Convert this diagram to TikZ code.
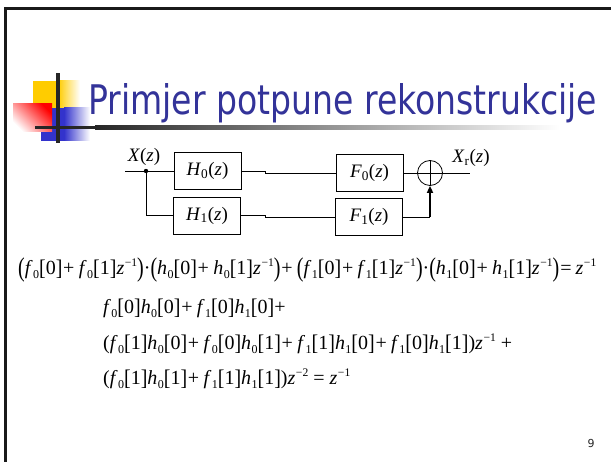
\documentclass[tikz,border=0pt]{standalone}
\usepackage{graphicx}
\usepackage{fontspec}
\setmainfont{Liberation Serif}
\newfontfamily\titlefont{DejaVu Sans}
\usetikzlibrary{arrows.meta}

\definecolor{titleblue}{RGB}{51,51,153}
\definecolor{logoyellow}{RGB}{255,204,0}
\definecolor{logoblue}{RGB}{51,51,204}
\definecolor{logored}{RGB}{255,0,0}
\definecolor{bargray}{RGB}{38,38,38}
\definecolor{framegray}{RGB}{25,25,25}

% formula helpers
\newcommand\Sb[1]{\raisebox{-0.2em}{\scalebox{0.6}{#1}}}
\newcommand\Sv[2]{\textit{#1}\kern0.02em\Sb{#2}}
\newcommand\Lb{\raisebox{-0.03em}{\scalebox{1}[1.12]{[}}}
\newcommand\Rb{\raisebox{-0.03em}{\scalebox{1}[1.12]{]}}}
\newcommand\Bk[1]{\Lb#1\Rb}
\newcommand\Zi[1]{\textit{z}\kern0.03em\raisebox{0.42em}{\scalebox{0.58}{−#1}}}
\newcommand\Pl{\kern0.04em+\kern0.22em}
\newcommand\BigL{\raisebox{-0.09em}{\scalebox{1}[1.35]{(}}}
\newcommand\BigR{\raisebox{-0.09em}{\scalebox{1}[1.35]{)}}}

\tikzset{
  blk/.style={draw, line width=0.8pt, minimum width=67pt, minimum height=37pt,
              inner sep=0pt, font=\fontsize{19}{22}\selectfont},
  lbl/.style={inner sep=0pt, font=\fontsize{19}{22}\selectfont},
  sumnode/.style={draw, circle, line width=0.8pt, minimum size=25pt, inner sep=0pt},
  wire/.style={line width=0.8pt},
  eqline/.style={anchor=base west, inner sep=0pt, font=\fontsize{20}{24}\selectfont}
}

\begin{document}
\begin{tikzpicture}[x=1pt, y=-1pt]
\useasboundingbox (0,0) rectangle (611,462);
\fill[white] (0,0) rectangle (611,462);

% slide frame
\draw[framegray, line width=3pt] (5.5,462) -- (5.5,8.5) -- (611,8.5);

% logo squares
\fill[logoyellow] (33,81) rectangle (58,108);
\shade[left color=logoyellow, right color=white] (58,81) rectangle (80,108);
\fill[logoblue] (41,108) rectangle (64,141);
\shade[left color=logoblue, right color=white] (64,108) rectangle (90,141);
\shade[shading=axis, top color=logored, bottom color=white, shading angle=-45] (13,104) rectangle (52,132);

% logo bars and title rule
\fill[bargray] (56,73) rectangle (59.5,143);
\fill[bargray] (35,126) rectangle (95,129.5);
\shade[left color=bargray, right color=white] (95,126) rectangle (560,129.5);

% title
\node[anchor=base west, inner sep=0pt, text=titleblue] (title) at (88,115)
  {\resizebox{509pt}{31pt}{\titlefont Primjer potpune rekonstrukcije}};

% block diagram
\coordinate (in) at (125,171);
\coordinate (split) at (146,171);
\node[blk] (H0) at (207.5,171) {\textit{H}\textsubscript{0}(\textit{z})};
\node[blk] (H1) at (207,215.5) {\textit{H}\textsubscript{1}(\textit{z})};
\node[blk] (F0) at (369.5,173) {\textit{F}\textsubscript{0}(\textit{z})};
\node[blk] (F1) at (369,217) {\textit{F}\textsubscript{1}(\textit{z})};
\node[sumnode] (sum) at (430,173) {};
\coordinate (out) at (470,173);
\coordinate (k0a) at (265,171);
\coordinate (k0b) at (265,173);
\coordinate (k1a) at (265,215.5);
\coordinate (k1b) at (265,217);
\node[lbl] (xin) at (144,157) {\textit{X}(\textit{z})};
\node[lbl] (xout) at (471,158) {\textit{X}\textsubscript{r}(\textit{z})};

\draw[wire] (in) -- (H0.west);
\draw[wire] (split) |- (H1.west);
\fill (split) circle (2.2);
\draw[wire] (H0.east) -- (k0a) -- (k0b) -- (F0.west);
\draw[wire] (H1.east) -- (k1a) -- (k1b) -- (F1.west);
\draw[wire] (F0.east) -- (sum.west);
\draw[wire] (sum.east) -- (out);
\draw[wire] (sum.north) -- (sum.south);
\draw[wire] (sum.west) -- (sum.east);
\coordinate (corner) at (sum.south |- F1.east);
\draw[wire] (F1.east) -- (corner);
\draw[line width=2pt, -{Triangle[length=7pt, width=6pt]}] (corner) -- (sum.south);

% equations
\node[eqline] (eq1) at (18,275)
  {\BigL\Sv{f}{0}\Bk{0}\Pl\Sv{f}{0}\Bk{1}\Zi{1}\BigR\textperiodcentered\BigL\Sv{h}{0}\Bk{0}\Pl\Sv{h}{0}\Bk{1}\Zi{1}\BigR\Pl\BigL\Sv{f}{1}\Bk{0}\Pl\Sv{f}{1}\Bk{1}\Zi{1}\BigR\textperiodcentered\BigL\Sv{h}{1}\Bk{0}\Pl\Sv{h}{1}\Bk{1}\Zi{1}\BigR\kern0.05em=\kern0.2em\Zi{1}};
\node[eqline] (eq2) at (103,314)
  {\Sv{f}{0}\Bk{0}\Sv{h}{0}\Bk{0}\Pl\Sv{f}{1}\Bk{0}\Sv{h}{1}\Bk{0}+};
\node[eqline] (eq3) at (103,350)
  {(\Sv{f}{0}\Bk{1}\Sv{h}{0}\Bk{0}\Pl\Sv{f}{0}\Bk{0}\Sv{h}{0}\Bk{1}\Pl\Sv{f}{1}\Bk{1}\Sv{h}{1}\Bk{0}\Pl\Sv{f}{1}\Bk{0}\Sv{h}{1}\Bk{1})\Zi{1}\kern0.25em+};
\node[eqline] (eq4) at (103,385)
  {(\Sv{f}{0}\Bk{1}\Sv{h}{0}\Bk{1}\Pl\Sv{f}{1}\Bk{1}\Sv{h}{1}\Bk{1})\Zi{2}\kern0.25em=\kern0.25em\Zi{1}};

% page number
\node[inner sep=0pt, text=bargray, font=\titlefont\fontsize{11}{13}\selectfont] (page) at (591,443) {9};
\end{tikzpicture}
\end{document}
